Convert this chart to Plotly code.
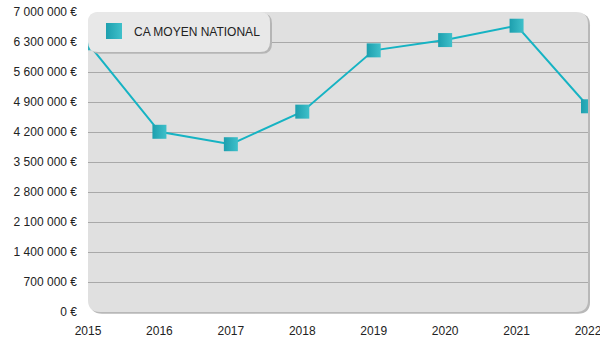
import plotly.graph_objects as go

years = [2015, 2016, 2017, 2018, 2019, 2020, 2021, 2022]
ca_moyen = [6270000, 4205000, 3915000, 4675000, 6105000, 6345000, 6680000, 4800000]
tick_vals = [0, 700000, 1400000, 2100000, 2800000, 3500000, 4200000, 4900000, 5600000, 6300000, 7000000]
tick_text = [f"{v:,}".replace(",", " ") + " €" for v in tick_vals]
series_name = "CA MOYEN NATIONAL"

LINE = "#16b3c3"
MK = "#1d9fae"
MK2 = "#3fc0ca"

fig = go.Figure()
fig.add_trace(go.Scatter(
    x=years, y=ca_moyen, mode="lines+markers", showlegend=False,
    line=dict(color=LINE, width=2),
    marker=dict(symbol="square", size=14, color=MK,
                gradient=dict(type="horizontal", color=MK2),
                line=dict(width=0)),
    cliponaxis=True, hoverinfo="x+y",
))
fig.add_trace(go.Scatter(
    x=[None], y=[None], mode="markers", name=series_name,
    marker=dict(symbol="square", size=18, color=MK,
                gradient=dict(type="horizontal", color=MK2),
                line=dict(width=0)),
))

W, H = 600, 350
ml, mr, mt, mb = 88, 12, 12, 38
pw, ph = W - ml - mr, H - mt - mb

def rounded(x0, y0, x1, y1, r):
    rx, ry = r / pw, r / ph
    return (f"M {x0+rx},{y0} L {x1-rx},{y0} Q {x1},{y0} {x1},{y0+ry} "
            f"L {x1},{y1-ry} Q {x1},{y1} {x1-rx},{y1} L {x0+rx},{y1} "
            f"Q {x0},{y1} {x0},{y1-ry} L {x0},{y0+ry} Q {x0},{y0} {x0+rx},{y0} Z")

shapes = [
    dict(type="path", xref="paper", yref="paper", layer="below",
         path=rounded(0.004, -0.006, 1.004, 0.996, 12),
         fillcolor="#b8b8b8", line=dict(width=0)),
    dict(type="path", xref="paper", yref="paper", layer="below",
         path=rounded(0, 0, 1, 1, 12),
         fillcolor="#e0e0e0", line=dict(width=0)),
    dict(type="path", xref="paper", yref="paper", layer="above",
         path=rounded(0.004, 1 - 40 / ph - 0.006, 182 / pw + 0.004, 0.996, 10),
         fillcolor="#b5b5b5", line=dict(width=0)),
    dict(type="path", xref="paper", yref="paper", layer="above",
         path=rounded(0, 1 - 40 / ph, 182 / pw, 1, 10),
         fillcolor="#e8e8e8", line=dict(width=0)),
]

fig.update_layout(
    width=W, height=H,
    margin=dict(l=ml, r=mr, t=mt, b=mb, pad=0, autoexpand=False),
    paper_bgcolor="white", plot_bgcolor="rgba(0,0,0,0)",
    font=dict(family="Liberation Sans, Arial, sans-serif", size=12, color="#222"),
    shapes=shapes,
    showlegend=True,
    legend=dict(x=0.012, y=0.985, xanchor="left", yanchor="top",
                bgcolor="rgba(0,0,0,0)", borderwidth=0,
                font=dict(size=12, color="#222"), itemsizing="trace"),
    xaxis=dict(range=[2015, 2022], tickvals=years, ticktext=[str(y) for y in years],
               showgrid=False, zeroline=False, showline=False, ticks="", ticklen=0,
               ticklabelstandoff=10, ticklabeloverflow="allow", automargin=False,
               tickfont=dict(size=12, color="#222")),
    yaxis=dict(range=[0, 7000000], tickvals=tick_vals, ticktext=tick_text,
               showgrid=True, gridcolor="#a9a9a9", gridwidth=1, automargin=False,
               zeroline=False, showline=False, ticks="", ticklabelstandoff=10,
               tickfont=dict(size=12, color="#222")),
)

fig.write_html("out.html")
